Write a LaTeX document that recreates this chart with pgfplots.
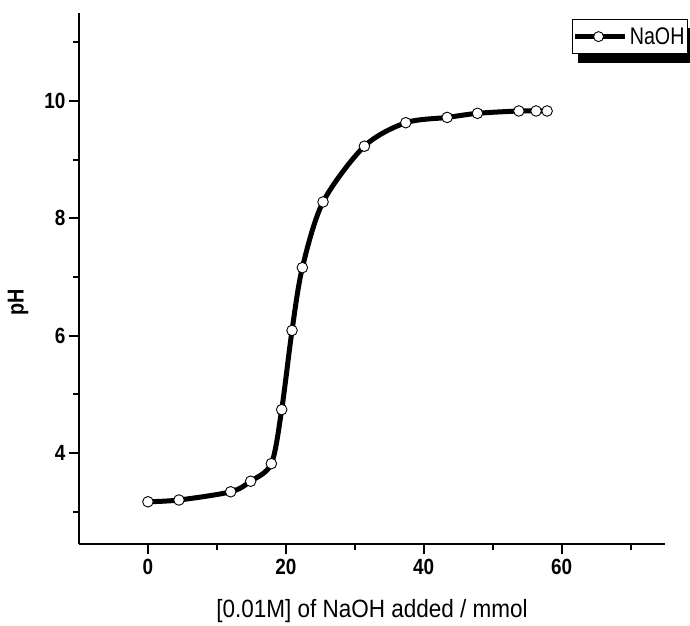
\documentclass[border=0pt]{standalone}
\usepackage{fontspec}
\setmainfont{Liberation Sans}
\newfontfamily\narrowfont[FakeStretch=0.86]{Liberation Sans}
\newfontfamily\labelfont[FakeStretch=0.9]{Liberation Sans}
\newfontfamily\legfont[FakeStretch=0.82]{Liberation Sans}
\usepackage{pgfplots}
\pgfplotsset{compat=1.18}
\begin{document}
\begin{tikzpicture}
\begin{axis}[
  scale only axis, width=586pt, height=531pt,
  xmin=-10, xmax=75, ymin=2.45, ymax=11.5,
  axis x line*=bottom, axis y line*=left,
  axis line style={line width=2pt, -},
  xtick={0,20,40,60}, ytick={4,6,8,10},
  minor xtick={10,30,50,70}, minor ytick={3,5,7,9,11},
  tick align=outside,
  major tick length=10pt, minor tick length=6pt,
  every tick/.style={line width=2pt, black},
  ticklabel style={font=\fontsize{22}{24}\selectfont\narrowfont\bfseries},
  xticklabel style={yshift=-2pt},
  /pgf/number format/assume math mode=true,
  xlabel={[0.01M] of NaOH added / mmol},
  ylabel={pH},
  xlabel style={font=\fontsize{25}{28}\selectfont\labelfont, at={(rel axis cs:0.5,0)}, anchor=center, yshift=-67pt},
  ylabel style={font=\fontsize{23}{26}\selectfont\narrowfont\bfseries, at={(rel axis cs:-0.104,0.455)}, anchor=center},
  legend style={name=leg, at={(rel axis cs:1,1)}, anchor=north east, xshift=23pt, yshift=-6pt,
    draw=black, line width=1pt, fill=white, font=\fontsize{24}{26}\selectfont\legfont,
    inner xsep=0pt, inner ysep=5pt, nodes={inner xsep=3pt, inner ysep=3pt}},
  legend image code/.code={
    \draw[line width=4.5pt, black] (0pt,0pt) -- (50pt,0pt);
    \path[draw=black, fill=white, line width=0.9pt] (24pt,0pt) circle (5pt);
  },
]
\addplot[black, line width=5pt, smooth, tension=0.5,
  mark=*, mark options={fill=white, draw=black, line width=0.9pt}, mark size=5.3pt]
  coordinates {
  (0,3.17) (4.5,3.20) (12.0,3.34) (14.9,3.52) (17.9,3.82) (19.4,4.74)
  (20.9,6.09) (22.4,7.16) (25.4,8.28) (31.4,9.23) (37.4,9.63) (43.4,9.72)
  (47.8,9.79) (53.8,9.83) (56.3,9.83) (57.9,9.83)
  };
\addlegendentry{NaOH}
\end{axis}
\fill[black] ([xshift=6pt]leg.south west) rectangle ([xshift=6pt,yshift=-9pt]leg.south east);
\fill[black] (leg.south east) rectangle ([xshift=6pt,yshift=-9pt]leg.north east);
\pgfresetboundingbox
\path (-79pt,-81pt) rectangle (611pt,544pt);
\end{tikzpicture}
\end{document}
